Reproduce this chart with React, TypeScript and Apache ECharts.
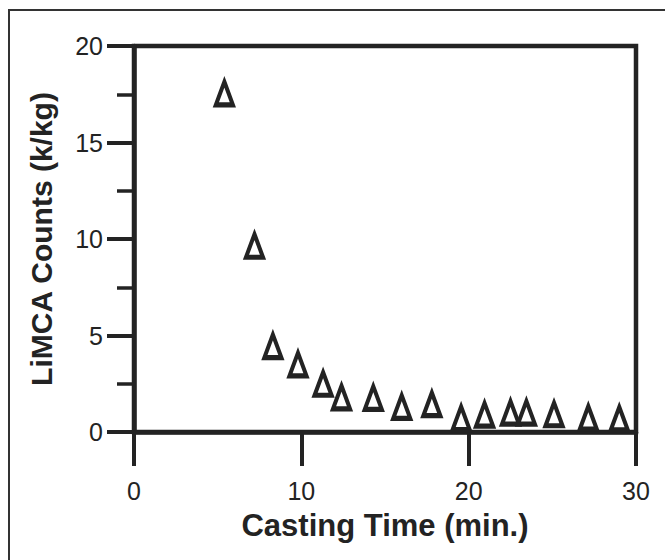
import React, { useEffect, useRef } from "react";
import * as echarts from "echarts";

const castingTime = [5.4, 7.2, 8.3, 9.8, 11.3, 12.4, 14.3, 16.0, 17.8, 19.55, 20.95, 22.5, 23.45, 25.1, 27.15, 29.0];
const limcaCounts = [17.55, 9.65, 4.45, 3.5, 2.5, 1.8, 1.77, 1.3, 1.44, 0.72, 0.9, 1.0, 1.0, 0.92, 0.74, 0.7];
const xTicks = [0, 30, 10];
const yTicks = [0, 20, 5];
const xTitle = "Casting Time (min.)";
const yTitle = "LiMCA Counts (k/kg)";

const INK = "#232323";
const FONT = "Liberation Sans, Arial, sans-serif";

export default function App() {
  const ref = useRef<HTMLDivElement>(null);
  useEffect(() => {
    document.body.style.margin = "0";
    const chart = echarts.init(ref.current!, undefined, { renderer: "svg" });
    const data = castingTime.map((x, i) => [x, limcaCounts[i]]);
    chart.setOption({
      animation: false,
      backgroundColor: "#ffffff",
      textStyle: { fontFamily: FONT },
      graphic: [
        {
          type: "rect",
          shape: { x: 9, y: 10, width: 800, height: 700 },
          style: { fill: "none", stroke: "#333", lineWidth: 2 },
          silent: true,
        },
      ],
      grid: {
        left: 134,
        right: 29,
        top: 46,
        bottom: 128,
        show: true,
        borderColor: INK,
        borderWidth: 4.5,
        backgroundColor: "transparent",
      },
      xAxis: {
        type: "value",
        min: xTicks[0],
        max: xTicks[1],
        interval: xTicks[2],
        name: xTitle,
        nameLocation: "middle",
        nameGap: 78,
        nameTextStyle: { fontSize: 31, fontWeight: "bold", color: INK, fontFamily: FONT },
        axisLine: { show: true, onZero: false, lineStyle: { color: INK, width: 4.5 } },
        axisTick: { show: true, length: 34, lineStyle: { color: INK, width: 4 } },
        minorTick: { show: false },
        splitLine: { show: false },
        axisLabel: { fontSize: 25, color: INK, margin: 46, fontFamily: FONT },
      },
      yAxis: {
        type: "value",
        min: yTicks[0],
        max: yTicks[1],
        interval: yTicks[2],
        name: yTitle,
        nameLocation: "middle",
        nameGap: 78,
        nameTextStyle: { fontSize: 30, fontWeight: "bold", color: INK, fontFamily: FONT },
        axisLine: { show: true, onZero: false, lineStyle: { color: INK, width: 4.5 } },
        axisTick: { show: true, length: 27, lineStyle: { color: INK, width: 4 } },
        minorTick: { show: true, splitNumber: 2, length: 17, lineStyle: { color: INK, width: 3.5 } },
        splitLine: { show: false },
        minorSplitLine: { show: false },
        axisLabel: { fontSize: 25, color: INK, margin: 31, fontFamily: FONT },
      },
      series: [
        {
          type: "scatter",
          data,
          symbol: "triangle",
          symbolSize: [17, 23],
          itemStyle: { color: "#ffffff", borderColor: INK, borderWidth: 4.5, opacity: 1, borderJoin: "miter" },
          emphasis: { disabled: true },
        },
      ],
    });
    return () => chart.dispose();
  }, []);
  return <div ref={ref} style={{ width: 665, height: 560 }} />;
}
